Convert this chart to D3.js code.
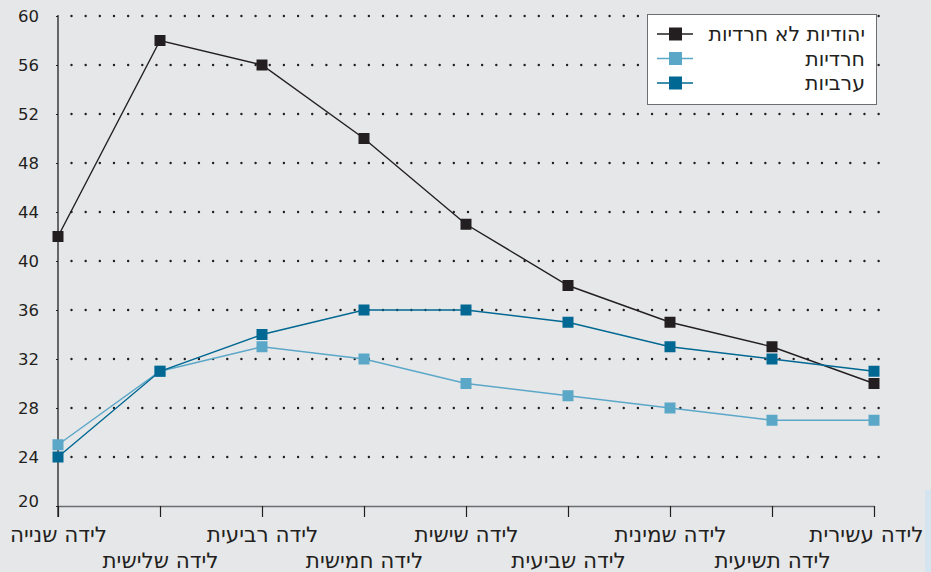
<!DOCTYPE html>
<html>
<head>
<meta charset="utf-8">
<script src="https://cdn.jsdelivr.net/npm/d3@7"></script>
<style>
  body { margin: 0; background: #e6e7e9; }
  svg { display: block; font-family: "DejaVu Sans", sans-serif; }
</style>
</head>
<body>
<svg id="chart" width="931" height="572"></svg>
<script>
const categories = ["לידה שנייה", "לידה שלישית", "לידה רביעית", "לידה חמישית", "לידה שישית",
    "לידה שביעית", "לידה שמינית", "לידה תשיעית", "לידה עשירית"];
const yTicks = [20, 24, 28, 32, 36, 40, 44, 48, 52, 56, 60];

const seriesNames = ["יהודיות לא חרדיות", "חרדיות", "ערביות"];
const seriesColors = ["#231f20", "#5aa7c8", "#006892"];
const jewishNonHaredi = [42, 58, 56, 50, 43, 38, 35, 33, 30];
const haredi = [25, 31, 33, 32, 30, 29, 28, 27, 27];
const arab = [24, 31, 34, 36, 36, 35, 33, 32, 31];
const seriesValues = [jewishNonHaredi, haredi, arab];

const width = 931, height = 572;
const svg = d3.select("#chart");
const x = d3.scalePoint().domain(categories).range([58, 874]);
const y = d3.scaleLinear().domain([20, 60]).range([506, 16]);

svg.append("rect").attr("width", width).attr("height", height).attr("fill", "#e6e7e9");
// thin light strip on the right edge seen in the source image
svg.append("rect").attr("x", 925).attr("y", 490).attr("width", 6).attr("height", 82).attr("fill", "#d4e5f0");

// dotted gridlines
svg.append("g")
    .selectAll("line")
    .data(yTicks.filter(t => t > 20))
    .join("line")
    .attr("x1", 71.5).attr("x2", 880)
    .attr("y1", d => y(d)).attr("y2", d => y(d))
    .attr("stroke", "#231f20")
    .attr("stroke-width", 2.4)
    .attr("stroke-linecap", "round")
    .attr("stroke-dasharray", "0.01,14.15");

// y axis
const yAxis = svg.append("g")
    .attr("transform", "translate(58,0)")
    .call(d3.axisLeft(y).tickValues(yTicks).tickSize(2).tickPadding(17));
yAxis.select(".domain").remove();
yAxis.selectAll(".tick line").attr("stroke", "#231f20");
yAxis.selectAll("text").attr("font-size", 16.5).attr("fill", "#231f20").attr("font-family", "DejaVu Sans")
    .attr("y", d => d === 20 ? -5 : 0);
svg.append("line").attr("x1", 58).attr("x2", 58).attr("y1", 15).attr("y2", 517)
    .attr("stroke", "#231f20").attr("stroke-width", 1.3);

// x axis
const xAxis = svg.append("g")
    .attr("transform", "translate(0,506)")
    .call(d3.axisBottom(x).tickSize(11).tickSizeOuter(0));
xAxis.select(".domain").attr("stroke", "#6d6e71").attr("stroke-width", 1.6);
xAxis.selectAll(".tick line").attr("stroke", "#231f20").attr("stroke-width", 1.2);
xAxis.selectAll("text")
    .attr("font-size", 21.5).attr("fill", "#231f20").attr("font-family", "DejaVu Sans")
    .attr("direction", "rtl")
    .attr("y", (d, i) => i % 2 === 0 ? 20.7 : 46.7)
    .each(function(d) {
        // keep labels inside the picture
        const w = this.getComputedTextLength();
        const cx = x(d);
        let shift = 0;
        if (cx + w / 2 > 923) shift = 923 - (cx + w / 2);
        if (cx - w / 2 < 8) shift = 8 - (cx - w / 2);
        d3.select(this).attr("x", shift);
    });

// series
const line = d3.line().x((d, i) => x(categories[i])).y(d => y(d));
seriesValues.forEach((vals, s) => {
    const g = svg.append("g");
    g.append("path").datum(vals)
        .attr("d", line).attr("fill", "none")
        .attr("stroke", seriesColors[s]).attr("stroke-width", 1.4);
    g.selectAll("rect").data(vals).join("rect")
        .attr("x", (d, i) => x(categories[i]) - 5.5)
        .attr("y", d => y(d) - 5.5)
        .attr("width", 11).attr("height", 11)
        .attr("fill", seriesColors[s]);
});

// legend
const legend = svg.append("g");
legend.append("rect")
    .attr("x", 647.5).attr("y", 14.5).attr("width", 229).attr("height", 90)
    .attr("fill", "#fff").attr("stroke", "#6d6e71").attr("stroke-width", 1);
seriesNames.forEach((name, i) => {
    const ly = 34 + i * 24.5;
    legend.append("line").attr("x1", 657).attr("x2", 693).attr("y1", ly).attr("y2", ly)
        .attr("stroke", seriesColors[i]).attr("stroke-width", 1.4);
    legend.append("rect").attr("x", 669).attr("y", ly - 6.5).attr("width", 13).attr("height", 13)
        .attr("fill", seriesColors[i]);
    legend.append("text").attr("x", 865).attr("y", ly + 7)
        .attr("text-anchor", "start").attr("direction", "rtl")
        .attr("font-size", 20.5).attr("fill", "#231f20")
        .text(name);
});
</script>
</body>
</html>
